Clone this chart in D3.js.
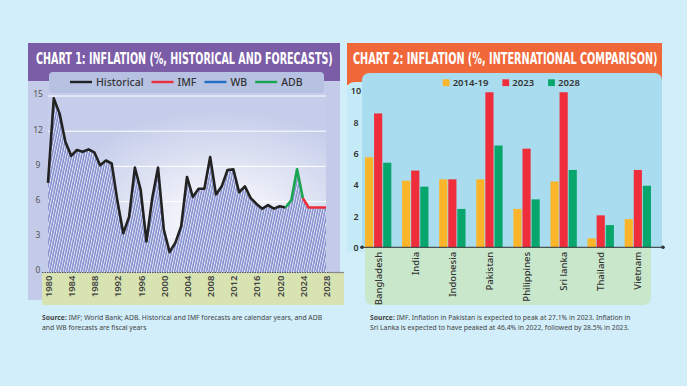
<!DOCTYPE html>
<html>
<head>
<meta charset="utf-8">
<script src="https://cdn.jsdelivr.net/npm/d3@7"></script>
<style>
  body { margin: 0; background: #d1eefa; }
  svg { display: block; }
</style>
</head>
<body>
<div id="chart"></div>
<script>
// ---- chart 1: Pakistan inflation, history and forecasts ----
const histStart = 1980;
const historical = [7.6, 14.8, 13.5, 11.1, 9.9, 10.4, 10.25, 10.45, 10.2, 9.1, 9.5, 9.25,
  6.0, 3.3, 4.7, 8.9, 7.0, 2.6, 6.3, 8.9, 3.6, 1.7, 2.5, 3.9, 8.1, 6.4, 7.1, 7.1, 9.8,
  6.6, 7.3, 8.7, 8.75, 6.8, 7.3, 6.3, 5.8, 5.4, 5.7, 5.4, 5.6, 5.5];
const adbYears = [2021, 2022, 2023, 2024];
const adbValues = [5.5, 6.1, 8.75, 6.3];
const imfYears = [2024, 2025, 2026, 2027, 2028];
const imfValues = [6.3, 5.5, 5.5, 5.5, 5.5];
const yTicks1 = [0, 3, 6, 9, 12, 15];
const xTicks1 = [1980, 1984, 1988, 1992, 1996, 2000, 2004, 2008, 2012, 2016, 2020, 2024, 2028];
const legend1 = ["Historical", "IMF", "WB", "ADB"];

// ---- chart 2: international comparison ----
const countries = ["Bangladesh", "India", "Indonesia", "Pakistan", "Philippines", "Sri lanka", "Thailand", "Vietnam"];
const seriesNames = ["2014-19", "2023", "2028"];
const avg1419 = [5.75, 4.25, 4.34, 4.34, 2.45, 4.2, 0.57, 1.8];
const val2023 = [8.55, 4.9, 4.34, 27.1, 6.3, 28.5, 2.04, 4.94];
const val2028 = [5.4, 3.87, 2.45, 6.5, 3.06, 4.94, 1.42, 3.93];
const yTicks2 = [0, 2, 4, 6, 8, 10];

const W = 687, H = 386;
const FONT = "'Noto Sans', 'Open Sans', sans-serif";
const TITLE_FONT = "'DejaVu Sans Condensed', 'Liberation Sans Narrow', sans-serif";

const svg = d3.select("#chart").append("svg")
  .attr("width", W).attr("height", H);
svg.append("rect").attr("width", W).attr("height", H).attr("fill", "#d1eefa");

const defs = svg.append("defs");
const hatch = defs.append("pattern")
  .attr("id", "hatch").attr("patternUnits", "userSpaceOnUse")
  .attr("width", 2.4).attr("height", 6)
  .attr("patternTransform", "rotate(12)");
hatch.append("rect").attr("width", 2.4).attr("height", 6).attr("fill", "#7e89cb");
hatch.append("rect").attr("width", 1.0).attr("height", 6).attr("fill", "#e6e9f7");

const rg = defs.append("radialGradient").attr("id", "plotbg")
  .attr("cx", "0.62").attr("cy", "0.72").attr("r", "0.62");
rg.append("stop").attr("offset", "0").attr("stop-color", "#ffffff");
rg.append("stop").attr("offset", "1").attr("stop-color", "#c5cdea");

// squeeze a title horizontally to a given width
function title(g, x, y, width, str) {
  const t = g.append("text").attr("x", 0).attr("y", 0)
    .style("font-family", TITLE_FONT).style("font-weight", "bold").style("font-size", "16px")
    .attr("fill", "#fff").text(str);
  const s = width / t.node().getComputedTextLength();
  t.attr("transform", `translate(${x},${y}) scale(${s},1)`);
}

/***********  CHART 1  ***********/
const c1 = svg.append("g");

c1.append("rect").attr("x", 28).attr("y", 43).attr("width", 312).attr("height", 257)
  .attr("fill", "#c3cbe9");
c1.append("rect").attr("x", 28).attr("y", 43).attr("width", 312).attr("height", 38)
  .attr("fill", "#7b5ca7");
title(c1, 36, 63.5, 297, "CHART 1: INFLATION (%, HISTORICAL AND FORECASTS)");

const x1 = d3.scaleLinear().domain([1980, 2028]).range([48, 326]);
const y1 = d3.scaleLinear().domain([0, 15]).range([272, 96]);

c1.append("rect").attr("x", 48).attr("y", 92).attr("width", 278).attr("height", 180)
  .attr("fill", "url(#plotbg)");

// gridlines
c1.append("g").selectAll("line").data(yTicks1.slice(1)).join("line")
  .attr("x1", 48).attr("x2", 326)
  .attr("y1", d => y1(d)).attr("y2", d => y1(d))
  .attr("stroke", "#fff").attr("stroke-width", 1);

// area under the combined line
const histPts = historical.map((v, i) => [histStart + i, v]);
const adbPts = adbYears.map((yr, i) => [yr, adbValues[i]]);
const imfPts = imfYears.map((yr, i) => [yr, imfValues[i]]);
const areaPts = histPts.concat(adbPts.slice(1, -1), imfPts);

c1.append("path").datum(areaPts)
  .attr("fill", "url(#hatch)")
  .attr("d", d3.area().x(d => x1(d[0])).y0(y1(0)).y1(d => y1(d[1])));

const line1 = d3.line().x(d => x1(d[0])).y(d => y1(d[1]));
c1.append("path").datum(histPts).attr("d", line1)
  .attr("fill", "none").attr("stroke", "#222").attr("stroke-width", 2.6).attr("stroke-linejoin", "round");
c1.append("path").datum(adbPts).attr("d", line1)
  .attr("fill", "none").attr("stroke", "#18a54f").attr("stroke-width", 2.6).attr("stroke-linejoin", "round");
c1.append("path").datum(imfPts).attr("d", line1)
  .attr("fill", "none").attr("stroke", "#ec2e3a").attr("stroke-width", 2.6).attr("stroke-linejoin", "round");

// x label band
c1.append("rect").attr("x", 42).attr("y", 273).attr("width", 302).attr("height", 32)
  .attr("fill", "#d8e3b2");
c1.append("line").attr("x1", 42).attr("x2", 328).attr("y1", 272.5).attr("y2", 272.5)
  .attr("stroke", "#555").attr("stroke-width", 1.2).attr("stroke-dasharray", "1.5,1");
c1.append("line").attr("x1", 328).attr("x2", 344).attr("y1", 272.5).attr("y2", 272.5)
  .attr("stroke", "#888").attr("stroke-width", 1.2);

const xAx1 = c1.append("g").attr("transform", "translate(0,272)")
  .call(d3.axisBottom(x1).tickValues(xTicks1).tickFormat(d3.format("d")).tickSize(0));
xAx1.select(".domain").remove();
xAx1.selectAll("text")
  .attr("transform", "rotate(-90)").attr("x", -3.5).attr("y", 0).attr("dy", "0.36em")
  .style("text-anchor", "end")
  .style("font-family", FONT).style("font-size", "9.5px").style("font-weight", "600")
  .attr("fill", "#444");

const yAx1 = c1.append("g").attr("transform", "translate(38,0)")
  .call(d3.axisLeft(y1).tickValues(yTicks1).tickSize(0).tickPadding(0));
yAx1.select(".domain").remove();
yAx1.selectAll("text")
  .attr("x", 0).attr("dy", "0.1em").style("text-anchor", "middle")
  .style("font-family", FONT).style("font-size", "8.5px").attr("fill", "#555");

// legend 1
c1.append("rect").attr("x", 49).attr("y", 72).attr("width", 275).attr("height", 21)
  .attr("rx", 4).attr("fill", "#b7c2e3");
const legColors1 = ["#222", "#ec2e3a", "#1f6fc4", "#18a54f"];
let lx = 70;
legend1.forEach((name, i) => {
  c1.append("line").attr("x1", lx).attr("x2", lx + 22).attr("y1", 82).attr("y2", 82)
    .attr("stroke", legColors1[i]).attr("stroke-width", 2.4);
  const t = c1.append("text").attr("x", lx + 26).attr("y", 85.6)
    .style("font-family", FONT).style("font-size", "10.5px").style("font-weight", "500")
    .attr("fill", "#333").text(name);
  lx += 26 + t.node().getComputedTextLength() + 8;
});

// source 1
const src1 = c1.append("text").attr("y", 320)
  .style("font-family", FONT).style("font-size", "6.8px").attr("fill", "#444");
src1.append("tspan").attr("x", 42).style("font-weight", "bold").text("Source:");
src1.append("tspan").text(" IMF; World Bank; ADB. Historical and IMF forecasts are calendar years, and ADB");
c1.append("text").attr("x", 42).attr("y", 329.5)
  .style("font-family", FONT).style("font-size", "6.8px").attr("fill", "#444")
  .text("and WB forecasts are fiscal years");

/***********  CHART 2  ***********/
const c2 = svg.append("g");

c2.append("rect").attr("x", 347).attr("y", 43).attr("width", 315).attr("height", 42)
  .attr("fill", "#f0683a");
title(c2, 353, 63.5, 305, "CHART 2: INFLATION (%, INTERNATIONAL COMPARISON)");

// left label strip
c2.append("path").attr("fill", "#c6ebf8")
  .attr("d", "M347,90 Q347,82 355,82 L368,82 L368,252 L347,252 Z");
// plot area with rounded top corners
c2.append("path").attr("fill", "#a9dcee")
  .attr("d", "M362,248 L362,81 Q362,73 370,73 L654,73 Q662,73 662,81 L662,248 Z");
// label band with rounded bottom corners
c2.append("path").attr("fill", "#c9e7cb")
  .attr("d", "M365,248 L651,248 L651,297 Q651,305 643,305 L373,305 Q365,305 365,297 Z");

const x2 = d3.scaleBand().domain(countries).range([365, 651]).paddingInner(0.29).paddingOuter(0);
const xs2 = d3.scaleBand().domain(seriesNames).range([0, x2.bandwidth()]).paddingInner(0.1);
const y2 = d3.scaleLinear().domain([0, 10]).range([247.3, 90.7]);
const barColors = ["#fbb52a", "#ee2f3b", "#08a66d"];
const barMax = 9.9;

const rows = countries.map((c, i) => ({
  country: c,
  vals: [avg1419[i], val2023[i], val2028[i]]
}));

const grp = c2.append("g").selectAll("g").data(rows).join("g")
  .attr("transform", d => `translate(${x2(d.country)},0)`);
grp.selectAll("rect").data(d => d.vals.map((v, k) => ({ k, v }))).join("rect")
  .attr("x", d => xs2(seriesNames[d.k]))
  .attr("width", xs2.bandwidth())
  .attr("y", d => y2(Math.min(d.v, barMax)))
  .attr("height", d => y2(0) - y2(Math.min(d.v, barMax)))
  .attr("fill", d => barColors[d.k]);

// axis baseline
c2.append("line").attr("x1", 362).attr("x2", 663).attr("y1", y2(0)).attr("y2", y2(0))
  .attr("stroke", "#333").attr("stroke-width", 1);
c2.append("circle").attr("cx", 362).attr("cy", y2(0)).attr("r", 1.8).attr("fill", "#333");
c2.append("circle").attr("cx", 663).attr("cy", y2(0)).attr("r", 1.8).attr("fill", "#333");

const xAx2 = c2.append("g").attr("transform", `translate(0,${y2(0)})`)
  .call(d3.axisBottom(x2).tickSize(0));
xAx2.select(".domain").remove();
xAx2.selectAll("text")
  .attr("transform", "rotate(-90)").attr("x", -4.5).attr("y", 0).attr("dy", "0.36em")
  .style("text-anchor", "end")
  .style("font-family", FONT).style("font-size", "9.5px").style("font-weight", "500")
  .attr("fill", "#333");

const yAx2 = c2.append("g").attr("transform", "translate(356,0)")
  .call(d3.axisLeft(y2).tickValues(yTicks2).tickSize(0).tickPadding(0));
yAx2.select(".domain").remove();
yAx2.selectAll("text")
  .attr("x", 0).attr("dy", "0.36em").style("text-anchor", "middle")
  .style("font-family", FONT).style("font-size", "9px").style("font-weight", "600")
  .attr("fill", "#333");

// legend 2
let lx2 = 442.7;
seriesNames.forEach((name, i) => {
  c2.append("rect").attr("x", lx2).attr("y", 79.3).attr("width", 6.8).attr("height", 6.8)
    .attr("fill", barColors[i]);
  const t = c2.append("text").attr("x", lx2 + 10).attr("y", 86)
    .style("font-family", FONT).style("font-size", "9.5px").style("font-weight", "600")
    .attr("fill", "#333").text(name);
  lx2 += 10 + t.node().getComputedTextLength() + 14;
});

// source 2
const src2 = c2.append("text").attr("y", 320)
  .style("font-family", FONT).style("font-size", "6.8px").attr("fill", "#444");
src2.append("tspan").attr("x", 370).style("font-weight", "bold").text("Source:");
src2.append("tspan").text(" IMF. Inflation in Pakistan is expected to peak at 27.1% in 2023. Inflation in");
c2.append("text").attr("x", 370).attr("y", 329.5)
  .style("font-family", FONT).style("font-size", "6.8px").attr("fill", "#444")
  .text("Sri Lanka is expected to have peaked at 46.4% in 2022, followed by 28.5% in 2023.");
</script>
</body>
</html>
